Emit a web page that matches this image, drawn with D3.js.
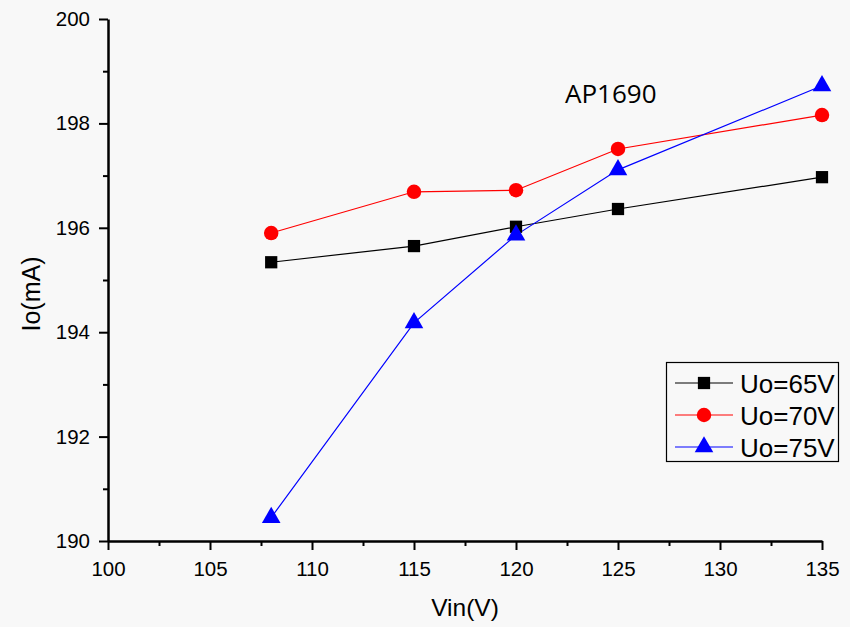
<!DOCTYPE html>
<html>
<head>
<meta charset="utf-8">
<script src="https://cdn.jsdelivr.net/npm/d3@7"></script>
<style>
html,body{margin:0;padding:0;background:#f8f8f8;}
svg{display:block;}
</style>
</head>
<body>
<script>
const vin = [108, 115, 120, 125, 135];
const uo65 = [195.34, 195.65, 196.02, 196.36, 196.97];
const uo70 = [195.90, 196.69, 196.72, 197.51, 198.16];
const uo75 = [190.45, 194.18, 195.86, 197.11, 198.72];
const seriesNames = ["Uo=65V", "Uo=70V", "Uo=75V"];
const xTicks = [100, 105, 110, 115, 120, 125, 130, 135];
const yTicks = [190, 192, 194, 196, 198, 200];

const W = 850, H = 627;
const svg = d3.select("body").append("svg").attr("width", W).attr("height", H);
svg.append("rect").attr("width", W).attr("height", H).attr("fill", "#f8f8f8");

const x = d3.scaleLinear().domain([100, 135]).range([108, 822]);
const y = d3.scaleLinear().domain([190, 200]).range([541, 19]);

const font = "'Liberation Sans', Arial, sans-serif";

// axes
const xAxis = svg.append("g").attr("transform", `translate(0,${y(190)})`)
  .call(d3.axisBottom(x).tickValues(xTicks).tickSize(9).tickPadding(11).tickSizeOuter(0));
const xMinor = svg.append("g").attr("transform", `translate(0,${y(190)})`)
  .call(d3.axisBottom(x).tickValues(d3.range(102.5, 135, 5)).tickSize(5).tickFormat("").tickSizeOuter(0));
const yAxis = svg.append("g").attr("transform", `translate(${x(100)},0)`)
  .call(d3.axisLeft(y).tickValues(yTicks).tickSize(9).tickPadding(9).tickSizeOuter(0));
const yMinor = svg.append("g").attr("transform", `translate(${x(100)},0)`)
  .call(d3.axisLeft(y).tickValues(d3.range(191, 200, 2)).tickSize(5).tickFormat("").tickSizeOuter(0));

[xAxis, xMinor, yAxis, yMinor].forEach(g => {
  g.select(".domain").attr("stroke", "#000").attr("stroke-width", 2.5);
  g.selectAll(".tick line").attr("stroke", "#000").attr("stroke-width", 2);
  g.selectAll(".tick text").attr("fill", "#000").style("font-family", font).style("font-size", "20.5px");
});
xMinor.select(".domain").remove();
yMinor.select(".domain").remove();

// axis labels
svg.append("text").attr("x", 465).attr("y", 616).attr("text-anchor", "middle")
  .style("font-family", font).style("font-size", "24.5px").text("Vin(V)");
svg.append("text").attr("transform", `translate(40,294) rotate(-90)`).attr("text-anchor", "middle")
  .style("font-family", font).style("font-size", "25px").text("Io(mA)");

// title
svg.append("text").attr("x", 565).attr("y", 103)
  .style("font-family", "'Open Sans', sans-serif").style("font-size", "26px").text("AP1690");

const series = [
  {name: seriesNames[0], vals: uo65, color: "#000000", sym: d3.symbolSquare, size: 150},
  {name: seriesNames[1], vals: uo70, color: "#ff0000", sym: d3.symbolCircle, size: 165},
  {name: seriesNames[2], vals: uo75, color: "#0000ff", sym: d3.symbolTriangle, size: 150}
];

const line = d3.line().x(d => x(d[0])).y(d => y(d[1]));

series.forEach(s => {
  const pts = vin.map((v, i) => [v, s.vals[i]]);
  svg.append("path").datum(pts).attr("d", line).attr("fill", "none")
    .attr("stroke", s.color).attr("stroke-width", 1.2);
});
series.forEach(s => {
  const pts = vin.map((v, i) => [v, s.vals[i]]);
  svg.selectAll(null).data(pts).enter().append("path")
    .attr("d", d3.symbol().type(s.sym).size(s.size))
    .attr("transform", d => `translate(${x(d[0])},${y(d[1])})`)
    .attr("fill", s.color);
});

// legend
const lg = svg.append("g");
lg.append("rect").attr("x", 666.5).attr("y", 362.5).attr("width", 172).attr("height", 99)
  .attr("fill", "#f8f8f8").attr("stroke", "#000").attr("stroke-width", 1.2);
series.forEach((s, i) => {
  const cy = 383 + i * 32;
  lg.append("line").attr("x1", 675).attr("x2", 733).attr("y1", cy).attr("y2", cy)
    .attr("stroke", s.color).attr("stroke-width", 1.2);
  lg.append("path").attr("d", d3.symbol().type(s.sym).size(s.size))
    .attr("transform", `translate(704,${cy})`).attr("fill", s.color);
  lg.append("text").attr("x", 740).attr("y", cy + 9.5)
    .style("font-family", font).style("font-size", "26px").text(s.name);
});
</script>
</body>
</html>
